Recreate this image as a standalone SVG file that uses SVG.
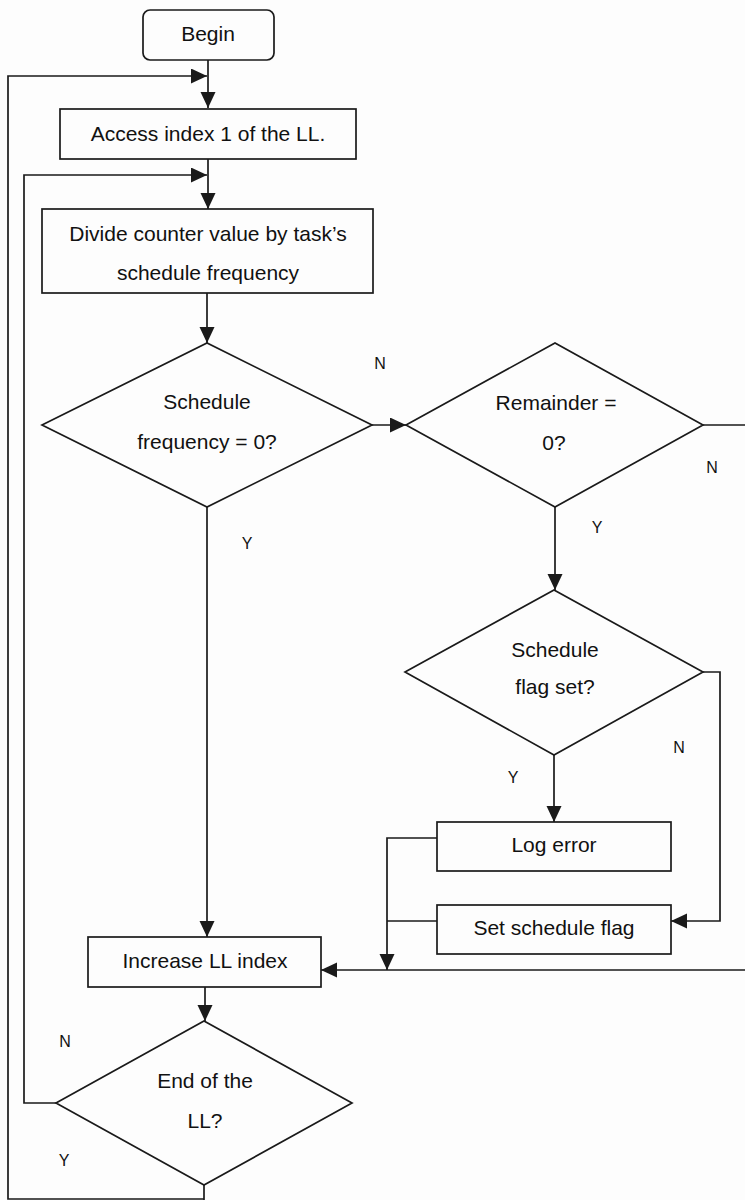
<svg xmlns="http://www.w3.org/2000/svg" width="745" height="1200" viewBox="0 0 745 1200">
  <style>
    .shape { fill: none; stroke: #1a1a1a; stroke-width: 1.7; }
    .wire { fill: none; stroke: #1a1a1a; stroke-width: 1.7; }
    .label { font-family: "Liberation Sans", Arial, sans-serif; font-size: 21px; fill: #111; text-anchor: middle; }
    .branch { font-family: "Liberation Sans", Arial, sans-serif; font-size: 16px; fill: #111; text-anchor: middle; }
  </style>
  <defs>
    <marker id="arrow" markerUnits="userSpaceOnUse" markerWidth="17" markerHeight="16" refX="16" refY="7.5" orient="auto">
      <path d="M0,0 L16,7.5 L0,15 Z" fill="#1a1a1a"/>
    </marker>
  </defs>

  <rect width="745" height="1200" fill="#fdfdfd"/>

  <!-- connectors -->
  <g id="connectors">
    <path class="wire" d="M208,60 V108" marker-end="url(#arrow)"/>
    <path class="wire" d="M204,1199 H8 V76 H207" marker-end="url(#arrow)"/>
    <path class="wire" d="M208,159 V209" marker-end="url(#arrow)"/>
    <path class="wire" d="M56,1103 H24 V175 H207" marker-end="url(#arrow)"/>
    <path class="wire" d="M207,293 V343" marker-end="url(#arrow)"/>
    <path class="wire" d="M372,425 H406" marker-end="url(#arrow)"/>
    <path class="wire" d="M703,425 H746"/>
    <path class="wire" d="M207,507 V937" marker-end="url(#arrow)"/>
    <path class="wire" d="M555,507 V590" marker-end="url(#arrow)"/>
    <path class="wire" d="M554,755 V822" marker-end="url(#arrow)"/>
    <path class="wire" d="M703,672 H720 V921 H671" marker-end="url(#arrow)"/>
    <path class="wire" d="M437,838 H387 V970" marker-end="url(#arrow)"/>
    <path class="wire" d="M437,921 H387"/>
    <path class="wire" d="M746,970 H321" marker-end="url(#arrow)"/>
    <path class="wire" d="M205,987 V1021" marker-end="url(#arrow)"/>
    <path class="wire" d="M204,1185 V1200"/>
    <!-- branch labels -->
    <text class="branch" x="380" y="369">N</text>
    <text class="branch" x="247" y="549">Y</text>
    <text class="branch" x="712" y="473">N</text>
    <text class="branch" x="597" y="533">Y</text>
    <text class="branch" x="679" y="753">N</text>
    <text class="branch" x="513" y="783">Y</text>
    <text class="branch" x="65" y="1047">N</text>
    <text class="branch" x="64" y="1166">Y</text>
  </g>

  <!-- nodes -->
  <g id="begin">
    <rect class="shape" x="143" y="10" width="131" height="50" rx="7"/>
    <text class="label" x="208" y="41">Begin</text>
  </g>
  <g id="access-index">
    <rect class="shape" x="60" y="109" width="296" height="50"/>
    <text class="label" x="208" y="141">Access index 1 of the LL.</text>
  </g>
  <g id="divide-counter">
    <rect class="shape" x="42" y="209" width="331" height="84"/>
    <text class="label" x="208" y="241">Divide counter value by task’s</text>
    <text class="label" x="208" y="280">schedule frequency</text>
  </g>
  <g id="frequency-zero">
    <polygon class="shape" points="42,425 207,343 372,425 207,507"/>
    <text class="label" x="207" y="409">Schedule</text>
    <text class="label" x="207" y="449">frequency = 0?</text>
  </g>
  <g id="remainder-zero">
    <polygon class="shape" points="406,425 555,343 703,425 555,507"/>
    <text class="label" x="556" y="410">Remainder =</text>
    <text class="label" x="554" y="450">0?</text>
  </g>
  <g id="flag-set">
    <polygon class="shape" points="405,672 554,590 703,672 554,755"/>
    <text class="label" x="555" y="657">Schedule</text>
    <text class="label" x="555" y="694">flag set?</text>
  </g>
  <g id="log-error">
    <rect class="shape" x="437" y="822" width="234" height="49"/>
    <text class="label" x="554" y="852">Log error</text>
  </g>
  <g id="set-flag">
    <rect class="shape" x="437" y="905" width="234" height="49"/>
    <text class="label" x="554" y="935">Set schedule flag</text>
  </g>
  <g id="increase-index">
    <rect class="shape" x="88" y="937" width="233" height="50"/>
    <text class="label" x="205" y="968">Increase LL index</text>
  </g>
  <g id="end-of-list">
    <polygon class="shape" points="56,1103 204,1021 352,1103 204,1185"/>
    <text class="label" x="205" y="1088">End of the</text>
    <text class="label" x="205" y="1128">LL?</text>
  </g>
</svg>
